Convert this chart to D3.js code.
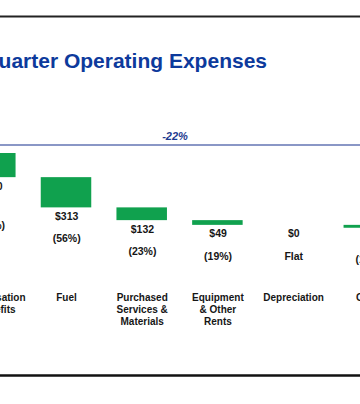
<!DOCTYPE html>
<html>
<head>
<meta charset="utf-8">
<script src="https://cdn.jsdelivr.net/npm/d3@7/dist/d3.min.js"></script>
<style>
  html, body { margin: 0; padding: 0; background: #fff; }
  svg { display: block; }
  text { font-family: "Liberation Sans", Arial, sans-serif; }
</style>
</head>
<body>
<svg id="chart" width="360" height="404"></svg>
<script>
// ---- data ----
const titleText = "Second Quarter Operating Expenses";
const totalChangeLabel = "-22%";
const startTotal = 3520;               // prior-period total ($M), off-frame
const categories = ["Compensation & Benefits", "Fuel", "Purchased Services & Materials",
                    "Equipment & Other Rents", "Depreciation", "Other"];
const categoryLines = [["Compensation", "& Benefits"], ["Fuel"], ["Purchased", "Services &", "Materials"],
                       ["Equipment", "& Other", "Rents"], ["Depreciation"], ["Other"]];
const decreases = [250, 313, 132, 49, 0, 30];   // $M decrease per category
const valueLabels = ["$250", "$313", "$132", "$49", "$0", "$30"];
const pctLabels = ["(21%)", "(56%)", "(23%)", "(19%)", "Flat", "(13%)"];

// ---- layout ----
const svg = d3.select("#chart");
const W = 360, H = 404;

const x = d3.scalePoint().domain(categories).range([-9.7, 368.8]);
const barW = 50.5;
const y = d3.scaleLinear().domain([0, startTotal]).range([493, 153]);

// running totals
let run = startTotal;
const bars = categories.map((c, i) => {
  const top = run;
  run -= decreases[i];
  return { cat: c, i, top, bottom: run };
});

// frame lines
svg.append("line").attr("x1", 0).attr("x2", W).attr("y1", 16.5).attr("y2", 16.5)
  .attr("stroke", "#222").attr("stroke-width", 2);
svg.append("line").attr("x1", 0).attr("x2", W).attr("y1", 375.5).attr("y2", 375.5)
  .attr("stroke", "#111").attr("stroke-width", 2.5);

// title
svg.append("text").attr("x", 267).attr("y", 68).attr("text-anchor", "end")
  .attr("font-size", 21).attr("font-weight", "bold").attr("fill", "#0d3a9c")
  .text(titleText);

// total change bracket
svg.append("line").attr("x1", 0).attr("x2", W).attr("y1", 145).attr("y2", 145)
  .attr("stroke", "#8a97c6").attr("stroke-width", 2);
svg.append("text").attr("x", 175).attr("y", 140).attr("text-anchor", "middle")
  .attr("font-size", 11).attr("font-weight", "bold").attr("font-style", "italic")
  .attr("fill", "#1d3a8f").text(totalChangeLabel);

// bars
svg.append("g").selectAll("rect").data(bars.filter(d => d.top > d.bottom)).join("rect")
  .attr("x", d => x(d.cat) - barW / 2)
  .attr("width", barW)
  .attr("y", d => y(d.top))
  .attr("height", d => y(d.bottom) - y(d.top))
  .attr("fill", "#10a14e");

// value labels
const lab = svg.append("g").attr("font-weight", "bold").attr("font-size", 10.5)
  .attr("fill", "#161616").attr("text-anchor", "middle");
lab.selectAll("text.v").data(bars).join("text").attr("class", "v")
  .attr("x", d => x(d.cat) + 0.7)
  .attr("y", d => y(d.bottom) + 12.5)
  .text(d => valueLabels[d.i]);
lab.selectAll("text.p").data(bars).join("text").attr("class", "p")
  .attr("x", d => x(d.cat) + 0.7)
  .attr("y", d => Math.max(y(d.bottom) + 35, 229))
  .text(d => pctLabels[d.i]);

// category labels
const cg = svg.append("g").attr("font-weight", "bold").attr("font-size", 10)
  .attr("fill", "#161616").attr("text-anchor", "middle");
categories.forEach((c, i) => {
  const t = cg.append("text").attr("x", x(c) + 0.5).attr("y", 301);
  categoryLines[i].forEach((ln, j) => {
    t.append("tspan").attr("x", x(c) + 0.5).attr("dy", j === 0 ? 0 : 12).text(ln);
  });
});
</script>
</body>
</html>
